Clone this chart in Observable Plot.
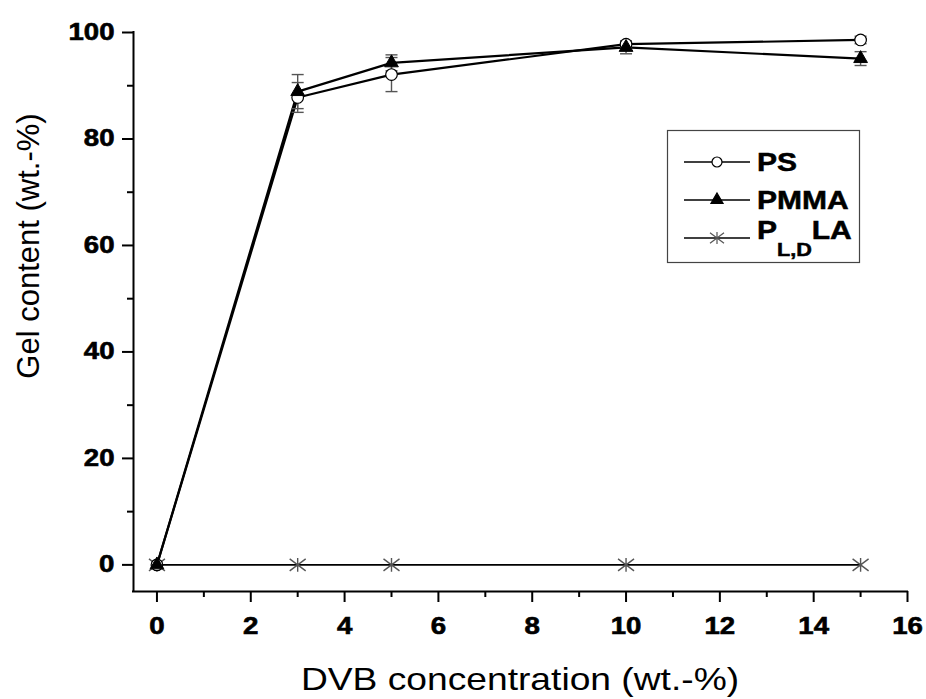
<!DOCTYPE html>
<html><head><meta charset="utf-8">
<script src="https://cdn.jsdelivr.net/npm/d3@7"></script>
<script src="https://cdn.jsdelivr.net/npm/@observablehq/plot@0.6"></script>
<style>
html,body{margin:0;padding:0;background:#fff;}
#wrap{position:relative;width:926px;height:699px;overflow:hidden;}
#wrap svg.overlay{position:absolute;left:0;top:0;pointer-events:none;}
</style></head><body><div id="wrap"></div>
<script>
// ---- data ----
const dvb = [0, 3, 5, 10, 15];
const psGel = [0, 87.8, 92.1, 97.8, 98.6];
const psErr = [0, 2.8, 3.2, 0.6, 0.7];
const pmmaGel = [0, 88.9, 94.3, 97.2, 95.1];
const pmmaErr = [0, 3.2, 1.5, 1.2, 1.3];
const pldlaGel = [0, 0, 0, 0, 0];
const seriesNames = ["PS", "PMMA", "PLDLA"];
const legendLabels = [["PS"], ["PMMA"], ["P", "L,D", "LA"]];
const xTicks = [0, 2, 4, 6, 8, 10, 12, 14, 16];
const xMinorTicks = [1, 3, 5, 7, 9, 11, 13, 15];
const yTicks = [0, 20, 40, 60, 80, 100];
const yMinorTicks = [10, 30, 50, 70, 90];
const xLabel = "DVB concentration (wt.-%)";
const yLabel = "Gel content (wt.-%)";

const mk = (name, vals, errs) => dvb.map((x, i) => ({series: name, x, y: vals[i], err: errs ? errs[i] : 0}));
const ps = mk(seriesNames[0], psGel, psErr);
const pmma = mk(seriesNames[1], pmmaGel, pmmaErr);
const pldla = mk(seriesNames[2], pldlaGel, null);
const errRows = [...ps, ...pmma].filter(d => d.err > 0);

const capSymbol = {draw(ctx, size) { const r = Math.sqrt(size / Math.PI); ctx.moveTo(-r, 0); ctx.lineTo(r, 0); }};
const starSymbol = {draw(ctx, size) {
  const r = Math.sqrt(size / Math.PI);
  ctx.moveTo(0, -r * 0.85); ctx.lineTo(0, r * 0.85);
  ctx.moveTo(-r, -r * 0.75); ctx.lineTo(r, r * 0.75);
  ctx.moveTo(-r, r * 0.75); ctx.lineTo(r, -r * 0.75);
}};

const tickFont = {fontSize: 23, fontWeight: "bold", strokeWidth: 2};

const chart = Plot.plot({
  width: 926, height: 699,
  marginLeft: 133, marginRight: 19, marginTop: 32, marginBottom: 108,
  x: {domain: [-0.5, 16]},
  y: {domain: [-5, 100]},
  style: {fontFamily: '"Liberation Sans", Arial, sans-serif', background: "white", color: "black"},
  marks: [
    Plot.axisX({ticks: xTicks, tickSize: 11, tickPadding: 15, label: null, ...tickFont}),
    Plot.axisX({ticks: xMinorTicks, tickSize: 6, tickFormat: () => "", label: null, strokeWidth: 2}),
    Plot.axisY({ticks: yTicks, tickSize: 11, tickPadding: 8, label: null, ...tickFont}),
    Plot.axisY({ticks: yMinorTicks, tickSize: 6, tickFormat: () => "", label: null, strokeWidth: 2}),
    Plot.ruleX([-0.5], {strokeWidth: 2, strokeLinecap: "square"}),
    Plot.ruleY([-5], {strokeWidth: 2, strokeLinecap: "square"}),
    Plot.line(pldla, {x: "x", y: "y", stroke: "black", strokeWidth: 1.6}),
    Plot.line(ps, {x: "x", y: "y", stroke: "black", strokeWidth: 2.2}),
    Plot.line(pmma, {x: "x", y: "y", stroke: "black", strokeWidth: 2.2}),
    Plot.ruleX(errRows, {x: "x", y1: d => d.y - d.err, y2: d => d.y + d.err, stroke: "#555", strokeWidth: 1.4}),
    Plot.dot(errRows, {x: "x", y: d => d.y - d.err, symbol: capSymbol, r: 6, stroke: "#555", fill: "none", strokeWidth: 1.4}),
    Plot.dot(errRows, {x: "x", y: d => d.y + d.err, symbol: capSymbol, r: 6, stroke: "#555", fill: "none", strokeWidth: 1.4}),
    Plot.dot(pldla, {x: "x", y: "y", symbol: starSymbol, r: 8, stroke: "#555", fill: "none", strokeWidth: 1.4}),
    Plot.dot(ps, {x: "x", y: "y", symbol: "circle", r: 5.8, stroke: "black", fill: "white", strokeWidth: 1.2}),
    Plot.dot(pmma, {x: "x", y: "y", symbol: "triangle", r: 5.1, stroke: "black", fill: "black", strokeWidth: 1})
  ]
});

const wrap = document.getElementById("wrap");
wrap.appendChild(chart);

// stretch tick labels horizontally (reference figure is horizontally stretched)
const STRETCH = 1.2;
chart.querySelectorAll("text").forEach(t => {
  const L = t.getComputedTextLength();
  if (L > 0) {
    t.setAttribute("textLength", (L * STRETCH).toFixed(1));
    t.setAttribute("lengthAdjust", "spacingAndGlyphs");
    t.setAttribute("stroke", "black");
    t.setAttribute("stroke-width", "0.6");
  }
});

// overlay: axis titles and legend
const ov = d3.select(wrap).append("svg").attr("class", "overlay").attr("width", 926).attr("height", 699)
  .style("font-family", '"Liberation Sans", Arial, sans-serif');

ov.append("text").attr("transform", `translate(520,690) scale(${STRETCH},1)`).attr("text-anchor", "middle")
  .attr("font-size", 31).text(xLabel);
ov.append("text").attr("transform", "translate(39,246) rotate(-90)").attr("text-anchor", "middle")
  .attr("font-size", 31).text(yLabel);

const lg = ov.append("g");
lg.append("rect").attr("x", 667.5).attr("y", 130.5).attr("width", 192).attr("height", 132)
  .attr("fill", "white").attr("stroke", "#444").attr("stroke-width", 1.2);
const rowY = [162, 200, 238];
const baseY = [170.5, 208.5, 238.5];
const symbols = [d3.symbolCircle, d3.symbolTriangle, starSymbol];
seriesNames.forEach((name, i) => {
  const g = lg.append("g");
  g.append("line").attr("x1", 684).attr("x2", 750).attr("y1", rowY[i]).attr("y2", rowY[i]).attr("stroke", "black").attr("stroke-width", 1.3);
  const size = i === 0 ? Math.PI * 25 : i === 1 ? Math.PI * 4.5 * 4.5 : Math.PI * 49;
  g.append("path").attr("transform", `translate(717,${rowY[i]})`).attr("d", d3.symbol(symbols[i], size)())
    .attr("fill", i === 0 ? "white" : i === 1 ? "black" : "none")
    .attr("stroke", i === 2 ? "#555" : "black").attr("stroke-width", 1.2);
  const parts = legendLabels[i];
  const t = g.append("text").attr("transform", `translate(757,${baseY[i]}) scale(${STRETCH},1)`)
    .attr("font-size", 25).attr("font-weight", "bold").attr("stroke", "black").attr("stroke-width", 0.5);
  t.append("tspan").text(parts[0]);
  if (parts.length > 1) {
    t.append("tspan").attr("font-size", 18).attr("dy", 18).text(parts[1]);
    t.append("tspan").attr("dy", -18).text(parts[2]);
  }
});
</script>
</body></html>
